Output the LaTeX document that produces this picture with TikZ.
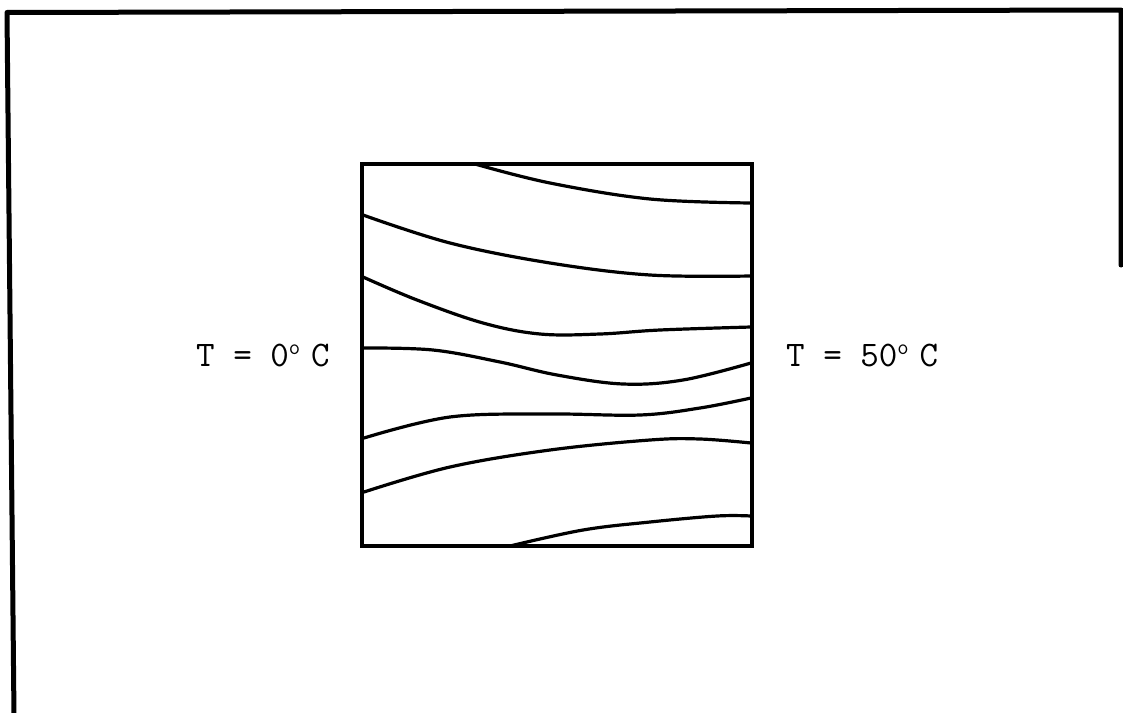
\documentclass[tikz,border=0pt]{standalone}
\begin{document}
\begin{tikzpicture}[x=1pt,y=-1pt,
  frame/.style={line width=5pt,line cap=round,line join=round},
  boxline/.style={line width=4.5pt,line join=miter},
  iso/.style={line width=3.2pt,line cap=round},
  lbl/.style={inner sep=0pt,font=\ttfamily\fontsize{36}{40}\selectfont}]
\newcommand{\degsign}{\raisebox{0.33em}{\fontsize{22}{22}\selectfont o}}
\useasboundingbox (0,0) rectangle (1123,712);
% outer frame (open at bottom)
\coordinate (f1) at (14,716);
\coordinate (f2) at (7,12.5);
\coordinate (f3) at (1121,10);
\coordinate (f4) at (1121,265);
\draw[frame] (f1) -- (f2) -- (f3) -- (f4);
% plate
\node[draw,boxline,minimum width=390pt,minimum height=382pt,inner sep=0pt] (plate) at (557,355) {};
% isotherms
\draw[iso] plot[smooth,tension=0.6] coordinates {(475,164) (550,183) (650,199) (751,203)};
\draw[iso] plot[smooth,tension=0.6] coordinates {(363,215) (450,243) (550,263) (650,275) (751,276)};
\draw[iso] plot[smooth,tension=0.6] coordinates {(363,277) (417,300) (483,323) (540,334) (600,334) (660,330) (751,327)};
\draw[iso] plot[smooth,tension=0.6] coordinates {(364,348) (433,350) (500,362) (557,375) (623,384) (683,380) (751,363)};
\draw[iso] plot[smooth,tension=0.6] coordinates {(364,438) (450,417) (550,414) (640,415) (700,408) (751,398)};
\draw[iso] plot[smooth,tension=0.6] coordinates {(364,492) (450,467) (550,450) (650,440) (700,439) (751,443)};
\draw[iso] plot[smooth,tension=0.6] coordinates {(510,546) (583,530) (650,522) (717,516) (751,516)};
% labels
\node[lbl,anchor=base west] (tl) at (196,366) {T = 0\degsign\hspace{0.3em}C};
\node[lbl,anchor=base west] (tr) at (786,366) {T = 50\degsign\hspace{0.3em}C};
\end{tikzpicture}
\end{document}
